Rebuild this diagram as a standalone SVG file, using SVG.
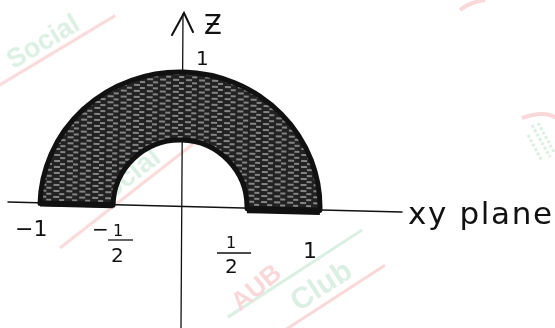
<svg xmlns="http://www.w3.org/2000/svg" width="555" height="328" viewBox="0 0 555 328">
<style>
.lbl{font-family:"DejaVu Sans","Liberation Sans",sans-serif;fill:#111}
.ax{stroke:#111;fill:none;stroke-linecap:round}
.wm{font-family:"Liberation Sans",Arial,sans-serif;font-weight:bold}
</style>
<defs>
<pattern id="hatch" width="13" height="6" patternUnits="userSpaceOnUse">
<rect width="13" height="6" fill="#222222"/>
<path d="M1 2h6M7 5h5" stroke="#e8e8e8" stroke-width="1"/>
</pattern>
</defs>
<rect width="555" height="328" fill="#ffffff"/>
<g id="watermarks" opacity="0.22">
<g transform="translate(8,80) rotate(-31)">
<text class="wm" x="10" y="-6" font-size="27" fill="#5cb882">Social</text>
<line x1="-10" y1="0" x2="125" y2="0" stroke="#e05050" stroke-width="3"/>
</g>
<g transform="translate(60,248) rotate(-38)">
<text class="wm" x="52" y="-6" font-size="28" fill="#5cb882">Social</text>
<line x1="0" y1="0" x2="210" y2="0" stroke="#e05050" stroke-width="3"/>
</g>
<g transform="translate(300,318) rotate(-33)">
<text class="wm" x="2" y="-6" font-size="30" fill="#5cb882">Club</text>
<line x1="-60" y1="2" x2="100" y2="2" stroke="#e05050" stroke-width="3"/>
<line x1="-60" y1="-40" x2="100" y2="-40" stroke="#5cb882" stroke-width="3"/>
</g>
<g transform="translate(240,312) rotate(-40)">
<text class="wm" x="0" y="0" font-size="26" fill="#e05050">AUB</text>
</g>
<path d="M522 118 Q545 110 556 118" stroke="#e05050" stroke-width="4" fill="none"/>
<path d="M532 125 l18 32 M538 123 l16 29 M528 135 l14 26" stroke="#5cb882" stroke-width="3" stroke-dasharray="3 2"/>
<path d="M460 10 Q470 2 485 0" stroke="#e05050" stroke-width="4" fill="none"/>
</g>
<g id="connectors">
<line class="ax" x1="8" y1="202" x2="402" y2="212" stroke-width="1.5"/>
<line class="ax" x1="183" y1="14" x2="181" y2="328" stroke-width="1.3"/>
<path class="ax" d="M172 35 L184 13 L193 32" stroke-width="2"/>
</g>
<g id="region" transform="rotate(1.4 180 207)">
<path d="M40,207 A140,135 0 0 1 320,207 L247,207 A67,67 0 0 0 113,207 Z" fill="url(#hatch)" stroke="#111" stroke-width="5" stroke-linejoin="round"/>
<line x1="40" y1="207" x2="113" y2="207" stroke="#111" stroke-width="6"/>
<line x1="247" y1="208" x2="320" y2="208" stroke="#111" stroke-width="7"/>
</g>
<g id="labels">
<text class="lbl" x="204" y="34" font-size="26">Ƶ</text>
<text class="lbl" x="196" y="65" font-size="20">1</text>
<text class="lbl" x="15" y="236" font-size="22">−1</text>
<text class="lbl" x="92" y="236" font-size="20">−</text>
<text class="lbl" x="113" y="236" font-size="16">1</text>
<line x1="108" y1="240" x2="133" y2="240" stroke="#111" stroke-width="1.3"/>
<text class="lbl" x="111" y="262" font-size="20">2</text>
<text class="lbl" x="226" y="248" font-size="16">1</text>
<line x1="217" y1="253" x2="251" y2="253" stroke="#111" stroke-width="1.3"/>
<text class="lbl" x="225" y="273" font-size="20">2</text>
<text class="lbl" x="303" y="258" font-size="22">1</text>
<text class="lbl" x="408" y="224" font-size="31" textLength="144" lengthAdjust="spacing">xy plane</text>
</g>
</svg>
